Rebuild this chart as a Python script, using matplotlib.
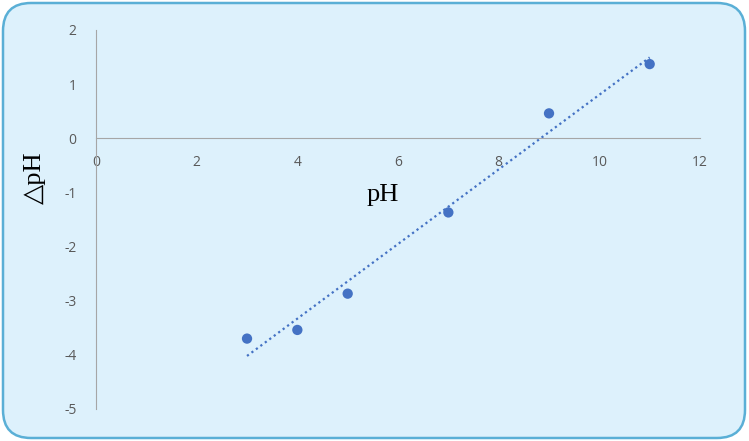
import numpy as np
import matplotlib
matplotlib.use("Agg")
import matplotlib.pyplot as plt
from matplotlib.patches import FancyBboxPatch

matplotlib.rcParams['axes.unicode_minus'] = False

# data
ph = [3, 4, 5, 7, 9, 11]
delta_ph = [-3.70, -3.54, -2.87, -1.37, 0.46, 1.37]
x_ticks = [0, 2, 4, 6, 8, 10, 12]
y_ticks = [-5, -4, -3, -2, -1, 0, 1, 2]

blue = '#4472C4'
bg = '#DDF1FC'
tick_col = '#595959'

fig = plt.figure(figsize=(7.49, 4.41), dpi=100)
fig.patch.set_facecolor('white')

# rounded chart area, kept behind the axes
box = FancyBboxPatch((3, 3), 742, 435, boxstyle="round,pad=0,rounding_size=28",
                     transform=None, facecolor=bg, edgecolor='#5AAFD6', linewidth=1.8,
                     zorder=-10)
fig.patches.append(box)

ax = fig.add_axes([0.1282, 0.0726, 0.8064, 0.8594])
ax.set_facecolor('none')

# trendline (linear fit)
k, b = np.polyfit(ph, delta_ph, 1)
xs = np.array([min(ph), max(ph)])
ax.plot(xs, k * xs + b, linestyle=(0, (1, 1.5)), color=blue, linewidth=1.6)

ax.scatter(ph, delta_ph, s=55, color=blue, zorder=3, edgecolors='none')

ax.set_xlim(0, 12)
ax.set_ylim(-5, 2)
ax.set_xticks(x_ticks)
ax.set_yticks(y_ticks)

for s in ['top', 'right']:
    ax.spines[s].set_visible(False)
ax.spines['left'].set_position(('data', 0))
ax.spines['bottom'].set_position(('data', 0))
ax.spines['left'].set_color('#A6A6A6')
ax.spines['bottom'].set_color('#A6A6A6')
ax.tick_params(length=0, labelsize=10, labelcolor=tick_col, pad=12)
ax.tick_params(axis='y', pad=14)
for lbl in ax.get_xticklabels() + ax.get_yticklabels():
    lbl.set_family(['Open Sans', 'DejaVu Sans'])

fig.text(383 / 749, 1 - 195 / 441, 'pH', family=['Liberation Serif', 'DejaVu Serif'],
         fontsize=19, ha='center', va='center')
fig.text(35 / 749, 1 - 178 / 441, '△pH', family=['Liberation Serif', 'DejaVu Sans'],
         fontsize=19, ha='center', va='center', rotation=90)

fig.savefig('out.png', dpi=100)
